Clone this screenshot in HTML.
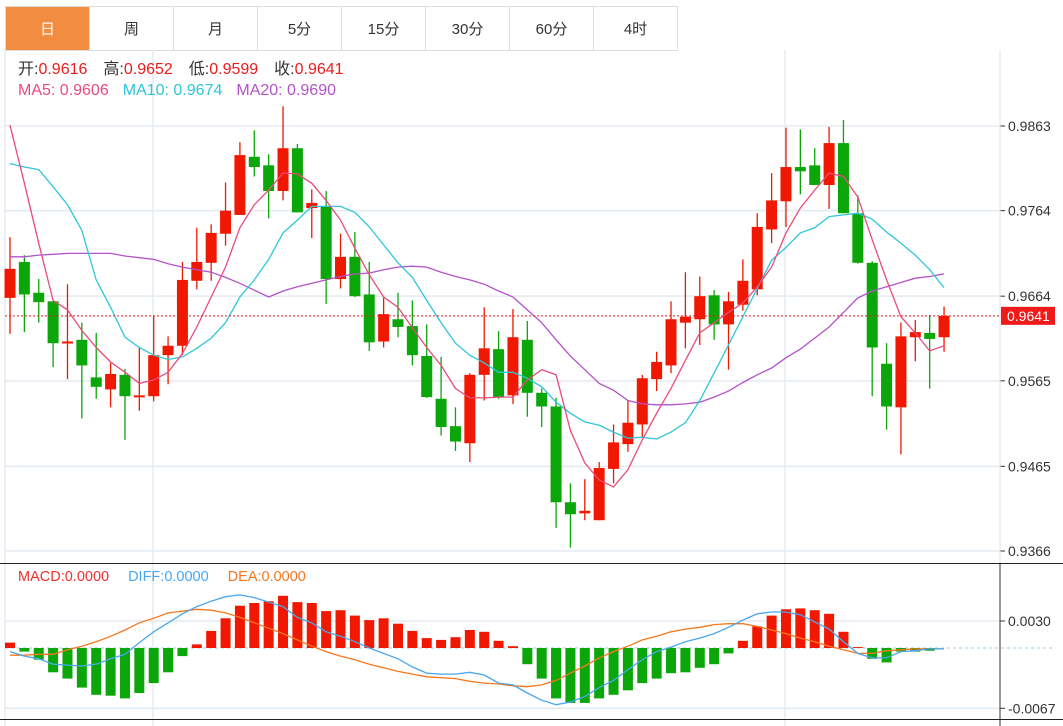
<!DOCTYPE html>
<html><head><meta charset="utf-8">
<style>
body{margin:0;background:#fff;width:1063px;height:726px;overflow:hidden;font-family:"Liberation Sans","Noto Sans CJK SC",sans-serif;}
#tabs{position:absolute;left:5px;top:6px;height:43px;display:flex;border:1px solid #ddd;border-right:none;}
.tab{width:83px;height:43px;border-right:1px solid #ddd;display:flex;align-items:center;justify-content:center;font-size:15px;color:#333;}
.tab.on{background:#f18c40;color:#fff;}
svg{position:absolute;left:0;top:0;}
.gap{display:inline-block;}
.lg{position:absolute;left:18px;height:18px;line-height:18px;white-space:nowrap;}
</style></head><body>
<div id="tabs">
<div class="tab on">日</div>
<div class="tab">周</div>
<div class="tab">月</div>
<div class="tab">5分</div>
<div class="tab">15分</div>
<div class="tab">30分</div>
<div class="tab">60分</div>
<div class="tab">4时</div>
</div>
<svg id="chart" width="1063" height="726"></svg>
<script>
const opens=[0.9662,0.9704,0.9668,0.9658,0.9609,0.9613,0.9569,0.9555,0.9572,0.9546,0.9547,0.9595,0.9606,0.9682,0.9703,0.9737,0.9759,0.9827,0.9817,0.9787,0.9837,0.9767,0.9769,0.9684,0.9710,0.9666,0.9611,0.9637,0.9629,0.9594,0.9544,0.9512,0.9492,0.9572,0.9602,0.9548,0.9613,0.9551,0.9535,0.9423,0.9410,0.9402,0.9462,0.9491,0.9514,0.9567,0.9583,0.9633,0.9637,0.9665,0.9631,0.9654,0.9672,0.9742,0.9775,0.9815,0.9817,0.9794,0.9843,0.9761,0.9703,0.9585,0.9534,0.9616,0.9621,0.9616];
const closes=[0.9696,0.9666,0.9657,0.9609,0.9611,0.9583,0.9558,0.9573,0.9547,0.9548,0.9595,0.9606,0.9683,0.9704,0.9738,0.9764,0.9829,0.9815,0.9787,0.9837,0.9762,0.9773,0.9684,0.9710,0.9664,0.9610,0.9643,0.9628,0.9595,0.9546,0.9511,0.9494,0.9572,0.9603,0.9546,0.9616,0.9551,0.9535,0.9423,0.9409,0.9413,0.9463,0.9493,0.9516,0.9568,0.9587,0.9637,0.9640,0.9664,0.9631,0.9658,0.9682,0.9745,0.9776,0.9815,0.9810,0.9794,0.9843,0.9761,0.9703,0.9604,0.9535,0.9617,0.9622,0.9614,0.9641];
const highs=[0.9733,0.9712,0.9684,0.9658,0.9678,0.9633,0.9621,0.9586,0.9579,0.9604,0.9641,0.9617,0.9704,0.9744,0.9748,0.9797,0.9844,0.9858,0.9830,0.9886,0.9842,0.9789,0.9787,0.9737,0.9739,0.9704,0.9662,0.9668,0.9659,0.9631,0.9593,0.9534,0.9574,0.9651,0.9623,0.9649,0.9635,0.9556,0.9545,0.9445,0.9450,0.9470,0.9514,0.9542,0.9572,0.9599,0.9658,0.9692,0.9687,0.9671,0.9669,0.9707,0.9761,0.9808,0.9861,0.9859,0.9837,0.9862,0.9870,0.9782,0.9705,0.9609,0.9633,0.9636,0.9642,0.9652];
const lows=[0.9620,0.9622,0.9633,0.9581,0.9567,0.9521,0.9544,0.9534,0.9496,0.9530,0.9541,0.9561,0.9595,0.9672,0.9682,0.9723,0.9759,0.9804,0.9755,0.9776,0.9762,0.9732,0.9655,0.9673,0.9663,0.9600,0.9604,0.9616,0.9583,0.9545,0.9501,0.9483,0.9470,0.9542,0.9544,0.9538,0.9523,0.9511,0.9393,0.9370,0.9402,0.9402,0.9445,0.9482,0.9499,0.9553,0.9574,0.9603,0.9607,0.9613,0.9578,0.9647,0.9665,0.9726,0.9745,0.9783,0.9794,0.9766,0.9761,0.9702,0.9547,0.9508,0.9479,0.9588,0.9556,0.9599];
const ma5=[0.9864,0.9796,0.9726,0.9659,0.9648,0.9624,0.9604,0.9587,0.9575,0.9562,0.9566,0.9575,0.9597,0.9628,0.9663,0.9698,0.9744,0.9771,0.9788,0.9808,0.9807,0.9796,0.9776,0.9753,0.9720,0.9689,0.9663,0.9651,0.9627,0.9604,0.9583,0.9556,0.9545,0.9545,0.9546,0.9546,0.9566,0.9578,0.9572,0.9507,0.9469,0.9449,0.9441,0.9461,0.9496,0.9527,0.9556,0.9589,0.9621,0.9633,0.9645,0.9656,0.9675,0.9698,0.9738,0.9767,0.9788,0.9808,0.9804,0.9780,0.9730,0.9683,0.9640,0.9621,0.9600,0.9606];
const ma10=[0.9819,0.9815,0.9812,0.9792,0.9771,0.9741,0.9683,0.9651,0.9616,0.9604,0.9595,0.9590,0.9593,0.9603,0.9615,0.9633,0.9663,0.9683,0.9707,0.9738,0.9753,0.9769,0.9769,0.9769,0.9762,0.9745,0.9724,0.9703,0.9686,0.9659,0.9633,0.9609,0.9595,0.9586,0.9575,0.9575,0.9568,0.9558,0.9540,0.9527,0.9517,0.9513,0.9505,0.9498,0.9499,0.9497,0.9505,0.9516,0.9542,0.9574,0.9607,0.9640,0.9673,0.9706,0.9721,0.9738,0.9744,0.9757,0.9759,0.9761,0.9754,0.9739,0.9726,0.9712,0.9695,0.9674];
const ma20=[0.9710,0.9710,0.9712,0.9713,0.9714,0.9714,0.9714,0.9714,0.9711,0.9709,0.9707,0.9702,0.9698,0.9695,0.9692,0.9686,0.9679,0.9671,0.9663,0.9670,0.9675,0.9679,0.9683,0.9687,0.9690,0.9691,0.9695,0.9698,0.9699,0.9698,0.9692,0.9687,0.9683,0.9678,0.9670,0.9663,0.9648,0.9633,0.9613,0.9594,0.9578,0.9562,0.9554,0.9542,0.9538,0.9537,0.9537,0.9538,0.9540,0.9546,0.9553,0.9563,0.9572,0.9580,0.9592,0.9602,0.9615,0.9628,0.9645,0.9662,0.9670,0.9675,0.9680,0.9685,0.9687,0.9690];
const macdHist=[0.0006,-0.0004,-0.0013,-0.0027,-0.0034,-0.0044,-0.0052,-0.0053,-0.0056,-0.0050,-0.0039,-0.0027,-0.0009,0.0004,0.0019,0.0033,0.0047,0.0050,0.0052,0.0058,0.0051,0.0050,0.0041,0.0042,0.0036,0.0031,0.0033,0.0027,0.0019,0.0011,0.0009,0.0012,0.0020,0.0018,0.0008,0.0002,-0.0018,-0.0034,-0.0056,-0.0061,-0.0061,-0.0056,-0.0052,-0.0047,-0.0039,-0.0034,-0.0028,-0.0027,-0.0022,-0.0018,-0.0006,0.0008,0.0024,0.0036,0.0043,0.0044,0.0042,0.0038,0.0018,0.0001,-0.0012,-0.0016,-0.0004,-0.0004,-0.0003,0.0000];
const diff=[-0.0004,-0.0009,-0.0012,-0.0018,-0.0019,-0.0020,-0.0018,-0.0012,-0.0007,0.0006,0.0018,0.0028,0.0038,0.0046,0.0052,0.0057,0.0059,0.0056,0.0051,0.0046,0.0034,0.0028,0.0018,0.0013,0.0007,0.0000,-0.0006,-0.0012,-0.0021,-0.0028,-0.0029,-0.0029,-0.0027,-0.0030,-0.0039,-0.0041,-0.0050,-0.0058,-0.0063,-0.0060,-0.0054,-0.0044,-0.0036,-0.0024,-0.0013,-0.0004,0.0001,0.0007,0.0011,0.0016,0.0023,0.0031,0.0038,0.0040,0.0040,0.0037,0.0029,0.0021,0.0007,-0.0006,-0.0011,-0.0011,-0.0004,-0.0003,-0.0001,-0.0001];
const dea=[-0.0008,-0.0008,-0.0007,-0.0007,-0.0002,0.0002,0.0007,0.0013,0.0020,0.0028,0.0033,0.0039,0.0041,0.0043,0.0042,0.0039,0.0034,0.0028,0.0022,0.0016,0.0009,0.0002,-0.0004,-0.0009,-0.0013,-0.0018,-0.0022,-0.0026,-0.0029,-0.0032,-0.0033,-0.0034,-0.0037,-0.0039,-0.0040,-0.0042,-0.0043,-0.0041,-0.0036,-0.0028,-0.0020,-0.0011,-0.0004,0.0002,0.0009,0.0013,0.0018,0.0021,0.0023,0.0026,0.0027,0.0027,0.0024,0.0020,0.0016,0.0011,0.0007,0.0002,-0.0002,-0.0006,-0.0006,-0.0003,-0.0002,-0.0001,-0.0001,-0.0001];
const priceTicks=["0.9863","0.9764","0.9664","0.9565","0.9465","0.9366"];
const macdTicks=["0.0030","-0.0067"];
const lastPrice=0.9641;

const NS="http://www.w3.org/2000/svg";
const svg=document.getElementById('chart');
function el(tag,attrs,parent){const e=document.createElementNS(NS,tag);for(const k in attrs)e.setAttribute(k,attrs[k]);(parent||svg).appendChild(e);return e;}
const RED="#f01800",GREEN="#0aa60a";
const X0=10,STEP=14.37;
const xAt=i=>X0+i*STEP;
const pMax=0.9863,pMin=0.9366,yTop=126,yBot=551;
const yP=p=>yTop+(pMax-p)/(pMax-pMin)*(yBot-yTop);
const mZero=648,mRef=0.0030,mRefY=621;
const yM=v=>mZero-v/mRef*(mZero-mRefY);

for(const t of priceTicks){const y=yP(parseFloat(t));
 const g=el('line',{x1:5,x2:1000,y1:y,y2:y,stroke:'#e3ebf2','stroke-width':1.5});
 
 el('line',{x1:1000,x2:1005,y1:y,y2:y,stroke:'#333'});
 const tx=el('text',{x:1008,y:y+5,'font-size':14,fill:'#333'});tx.textContent=t;
 }
for(const t of macdTicks){const y=yM(parseFloat(t));
 const g=el('line',{x1:5,x2:1000,y1:y,y2:y,stroke:'#e3ebf2','stroke-width':1.5});
 
 el('line',{x1:1000,x2:1005,y1:y,y2:y,stroke:'#333'});
 const tx=el('text',{x:1008,y:y+5,'font-size':14,fill:'#333'});tx.textContent=t;
 }
for(const gx of [153,785]){el('line',{x1:gx,x2:gx,y1:50,y2:726,stroke:'#e3ebf2','stroke-width':1.5});}
el('line',{x1:5,x2:5,y1:50,y2:726,stroke:'#dde3e8'});
el('line',{x1:1000,x2:1000,y1:50,y2:563,stroke:'#dde3e8'});
el('line',{x1:1000,x2:1000,y1:563,y2:726,stroke:'#333'});
el('line',{x1:0,x2:1063,y1:563.5,y2:563.5,stroke:'#222'});
el('line',{x1:0,x2:1063,y1:719.5,y2:719.5,stroke:'#222'});

for(let i=0;i<opens.length;i++){
 const up=closes[i]>=opens[i];const c=up?RED:GREEN;const x=xAt(i);
 const w=el('line',{x1:x,x2:x,y1:yP(highs[i]),y2:yP(lows[i]),stroke:c,'stroke-width':1.3});
 
 const t=Math.min(yP(opens[i]),yP(closes[i]));const h=Math.max(2,Math.abs(yP(opens[i])-yP(closes[i])));
 const b=el('rect',{x:x-5.5,y:t,width:11,height:h,fill:c});
 
}
function line(arr,f,color,name){const pts=arr.map((v,i)=>xAt(i).toFixed(1)+','+f(v).toFixed(1)).join(' ');
 const p=el('polyline',{points:pts,fill:'none',stroke:color,'stroke-width':1.3});
 }
line(ma20,yP,'#b452c8','ma20-line');
line(ma10,yP,'#2ec6dc','ma10-line');
line(ma5,yP,'#e94b7d','ma5-line');

const ly=yP(lastPrice);
const ll=el('line',{x1:5,x2:1000,y1:ly,y2:ly,stroke:'#e02020','stroke-dasharray':'2,2'});

const lb=el('rect',{x:1001,y:ly-9,width:54,height:18,fill:'#f01a1a'});

const lt=el('text',{x:1007,y:ly+5,'font-size':14,fill:'#fff'});lt.textContent=lastPrice.toFixed(4);

const zl=el('line',{x1:5,x2:1055,y1:mZero,y2:mZero,stroke:'#8fd0ee','stroke-dasharray':'3,3'});

for(let i=0;i<macdHist.length;i++){const v=macdHist[i];const x=xAt(i);
 const y=Math.min(yM(v),mZero);const h=Math.abs(yM(v)-mZero);
 const r=el('rect',{x:x-5,y:y,width:10,height:h,fill:v>=0?RED:GREEN});
 }
line(dea,yM,'#f5781e','dea-line');
line(diff,yM,'#4aa6ee','diff-line');
</script>
<div class="lg" style="top:61px;font-size:16px;color:#333">开:<span style="color:#f01a1a">0.9616</span><span class="gap" style="width:16px"></span>高:<span style="color:#f01a1a">0.9652</span><span class="gap" style="width:16px"></span>低:<span style="color:#f01a1a">0.9599</span><span class="gap" style="width:16px"></span>收:<span style="color:#f01a1a">0.9641</span></div>
<div class="lg" style="top:82px;font-size:16px"><span style="color:#e94b7d">MA5:&nbsp;0.9606</span><span class="gap" style="width:14px"></span><span style="color:#2ec6dc">MA10:&nbsp;0.9674</span><span class="gap" style="width:14px"></span><span style="color:#b452c8">MA20:&nbsp;0.9690</span></div>
<div class="lg" style="top:568px;font-size:14.5px"><span style="color:#f03030">MACD:0.0000</span><span class="gap" style="width:19px"></span><span style="color:#4aa6ee">DIFF:0.0000</span><span class="gap" style="width:19px"></span><span style="color:#f5781e">DEA:0.0000</span></div>
</body></html>
